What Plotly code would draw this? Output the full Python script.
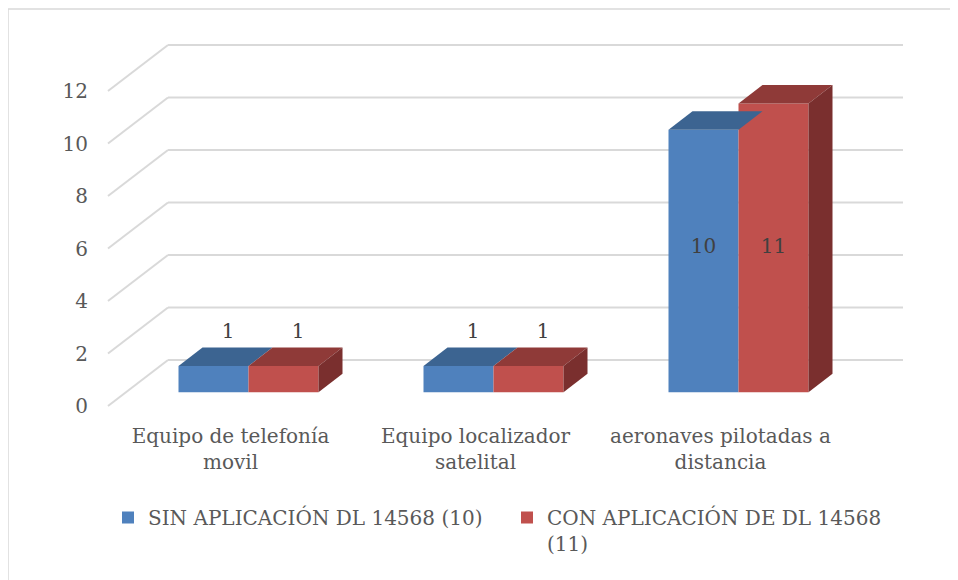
import plotly.graph_objects as go

# ---------------- data ----------------
categories = ["Equipo de telefonía<br>movil", "Equipo localizador<br>satelital", "aeronaves pilotadas a<br>distancia"]
series_names = ["SIN APLICACIÓN DL 14568 (10)", "CON APLICACIÓN DE DL 14568<br>(11)"]
sin_aplicacion = [1, 1, 10]
con_aplicacion = [1, 1, 11]
y_ticks = [0, 2, 4, 6, 8, 10, 12]

# ---------------- styling / layout constants ----------------
W, H = 958, 580
OFF = 8                                   # page body margin
ML, MR, MT, MB = 81, 28, 12, 166
X_ORIGIN_PX, X_UNIT_PX = 108 - OFF, 245.0  # category units -> px (figure coords)
Y_ZERO_PX, Y_UNIT_PX = 406 - OFF, 26.25    # value units -> px (figure coords)
DXF = 60 / X_UNIT_PX                       # full depth offset (x units)
DYF = 46 / Y_UNIT_PX                       # full depth offset (value units)
D_FRONT, D_BACK = 0.3, 0.7                 # bar depth range
BAR_W = 70 / X_UNIT_PX
FONT = "DejaVu Serif"
GRID = "#D9D9D9"

face_colors = [
    {"front": "#4F81BD", "top": "#3C6491", "side": "#2F4F74"},
    {"front": "#C0504D", "top": "#8F3A38", "side": "#7A2F2E"},
]

x_range = [(ML - X_ORIGIN_PX) / X_UNIT_PX, (W - MR - X_ORIGIN_PX) / X_UNIT_PX]
y_range = [(Y_ZERO_PX - (H - MB)) / Y_UNIT_PX, (Y_ZERO_PX - MT) / Y_UNIT_PX]


def paper_x(px):
    return (px - OFF - ML) / (W - ML - MR)


def paper_y(py):
    return ((H - MB) - (py - OFF)) / (H - MT - MB)


fig = go.Figure()

# ---------------- walls (gridlines) as shapes below traces ----------------
shapes = []
for k in y_ticks:
    shapes.append(dict(type="line", xref="x", yref="y", layer="below",
                       x0=DXF, y0=k + DYF, x1=len(categories) + DXF, y1=k + DYF,
                       line=dict(color=GRID, width=2)))
    shapes.append(dict(type="line", xref="x", yref="y", layer="below",
                       x0=0, y0=k, x1=DXF, y1=k + DYF,
                       line=dict(color=GRID, width=2)))
# chart outer border
shapes.append(dict(type="rect", xref="paper", yref="paper", layer="below",
                   x0=paper_x(8), y0=paper_y(620), x1=paper_x(1000), y1=paper_y(9),
                   line=dict(color=GRID, width=1.5), fillcolor="rgba(0,0,0,0)"))

series = [sin_aplicacion, con_aplicacion]
fx0, fy0 = D_FRONT * DXF, D_FRONT * DYF
bx0, by0 = D_BACK * DXF, D_BACK * DYF

# front faces as real bars
for s, (name, vals) in enumerate(zip(series_names, series)):
    xs = []
    for i in range(len(categories)):
        center = i + 0.5 + fx0
        left = center - BAR_W if s == 0 else center
        xs.append(left + BAR_W / 2)
    fig.add_trace(go.Bar(
        x=xs, y=vals, base=[fy0] * len(vals), width=[BAR_W] * len(vals),
        name=name, marker=dict(color=face_colors[s]["front"], line=dict(width=0)),
        hoverinfo="skip", showlegend=True))

# top and side faces as polygons
for i in range(len(categories)):
    center = i + 0.5 + fx0
    for s, vals in enumerate(series):
        v = vals[i]
        left = center - BAR_W if s == 0 else center
        right = left + BAR_W
        ddx, ddy = bx0 - fx0, by0 - fy0
        top_y = fy0 + v
        fig.add_trace(go.Scatter(
            x=[left, right, right + ddx, left + ddx, left],
            y=[top_y, top_y, top_y + ddy, top_y + ddy, top_y],
            fill="toself", mode="lines", line=dict(width=0, color=face_colors[s]["top"]),
            fillcolor=face_colors[s]["top"], hoverinfo="skip", showlegend=False))
        if s == len(series) - 1:
            fig.add_trace(go.Scatter(
                x=[right, right + ddx, right + ddx, right, right],
                y=[fy0, fy0 + ddy, top_y + ddy, top_y, fy0],
                fill="toself", mode="lines", line=dict(width=0, color=face_colors[s]["side"]),
                fillcolor=face_colors[s]["side"], hoverinfo="skip", showlegend=False))

# data labels
lx, ly, lt = [], [], []
for s, vals in enumerate(series):
    for i, v in enumerate(vals):
        center = i + 0.5 + fx0
        cx = center - BAR_W / 2 if s == 0 else center + BAR_W / 2
        cat_max = max(sr[i] for sr in series)
        if v >= 5:
            lx.append(cx)
            ly.append(fy0 + cat_max / 2)
        else:
            lx.append(cx + 0.06)
            ly.append(fy0 + v + 1.25)
        lt.append(str(v))
fig.add_trace(go.Scatter(x=lx, y=ly, text=lt, mode="text", textposition="middle center",
                         textfont=dict(family=FONT, size=20, color="#404040"),
                         hoverinfo="skip", showlegend=False))

fig.update_layout(
    width=W, height=H,
    margin=dict(l=ML, r=MR, t=MT, b=MB, autoexpand=False),
    paper_bgcolor="white", plot_bgcolor="white",
    barmode="overlay",
    font=dict(family=FONT, size=20, color="#595959"),
    shapes=shapes,
    xaxis=dict(range=x_range, tickvals=[0.5, 1.5, 2.5], ticktext=categories,
               showgrid=False, zeroline=False, showline=False, ticks="",
               tickfont=dict(family=FONT, size=20, color="#595959")),
    yaxis=dict(range=y_range, tickvals=y_ticks, ticktext=[str(t) for t in y_ticks],
               showgrid=False, zeroline=False, showline=False, ticks="",
               tickfont=dict(family=FONT, size=20, color="#595959")),
    legend=dict(orientation="h", x=paper_x(108), xanchor="left",
                y=paper_y(498), yanchor="top", valign="top",
                entrywidth=354, bgcolor="rgba(0,0,0,0)",
                font=dict(family=FONT, size=20, color="#595959")),
)

fig.write_html("out.html")
